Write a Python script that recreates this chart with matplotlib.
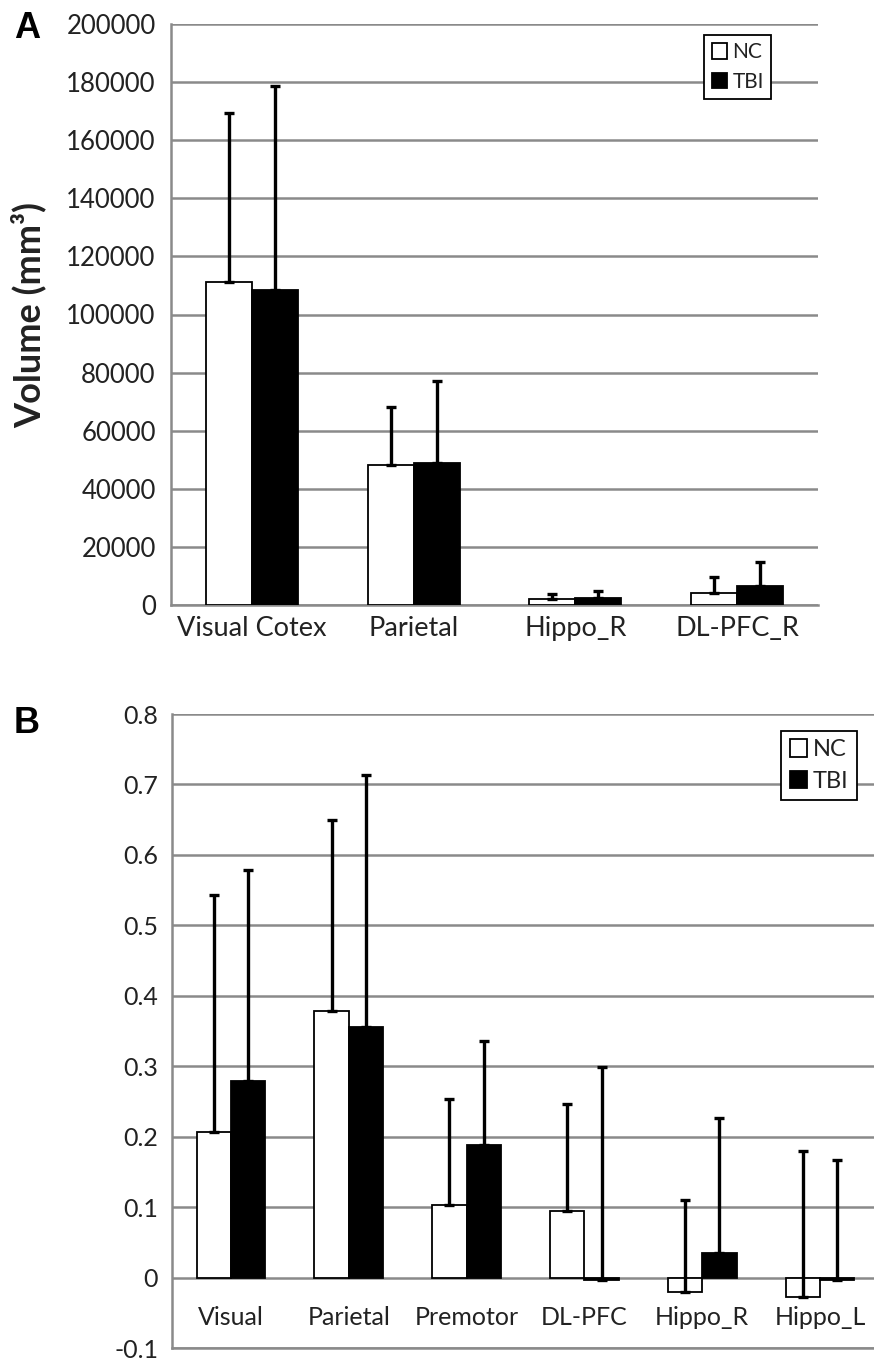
import numpy as np
import matplotlib
matplotlib.use('Agg')
import matplotlib.pyplot as plt

# panel A: volumes
regions_a = ['Visual Cotex', 'Parietal', 'Hippo_R', 'DL-PFC_R']
nc_a = [111300, 48200, 2100, 4200]
nc_a_err = [58200, 19800, 1700, 5500]
tbi_a = [108400, 48900, 2500, 6600]
tbi_a_err = [70400, 28100, 2300, 8300]

# panel B
regions_b = ['Visual', 'Parietal', 'Premotor', 'DL-PFC', 'Hippo_R', 'Hippo_L']
nc_b = [0.207, 0.378, 0.103, 0.094, -0.021, -0.027]
nc_b_err = [0.336, 0.271, 0.150, 0.152, 0.131, 0.206]
tbi_b = [0.279, 0.356, 0.188, -0.003, 0.035, -0.003]
tbi_b_err = [0.300, 0.358, 0.148, 0.302, 0.192, 0.170]

plt.rcParams['font.family'] = ['Lato', 'DejaVu Sans']
txt = '#222222'
grid = '#8a8a8a'

fig = plt.figure(figsize=(8.74, 13.59), dpi=100)


def draw(ax, nc, nc_err, tbi, tbi_err, w, capsize):
    x = np.arange(len(nc))
    ax.bar(x - w / 2, nc, w, color='white', edgecolor='black', linewidth=1.3, zorder=3, label='NC')
    ax.bar(x + w / 2, tbi, w, color='black', edgecolor='black', linewidth=1.3, zorder=3, label='TBI')
    ax.errorbar(x - w / 2, nc, yerr=[np.zeros(len(nc)), nc_err], fmt='none', ecolor='black',
                elinewidth=2.4, capsize=capsize, capthick=2.4, zorder=4)
    ax.errorbar(x + w / 2, tbi, yerr=[np.zeros(len(tbi)), tbi_err], fmt='none', ecolor='black',
                elinewidth=2.4, capsize=capsize, capthick=2.4, zorder=4)
    ax.set_xlim(-0.5, len(nc) - 0.5)
    ax.yaxis.grid(True, color=grid, linewidth=1.8, zorder=0)
    ax.set_axisbelow(True)
    for s in ['top', 'right']:
        ax.spines[s].set_visible(False)
    ax.spines['left'].set_color(grid)
    ax.spines['left'].set_linewidth(1.8)
    ax.spines['bottom'].set_color(grid)
    ax.spines['bottom'].set_linewidth(1.8)
    ax.tick_params(length=0, colors=txt)
    return x


def legend(ax, anchor, size):
    leg = ax.legend(loc='upper right', bbox_to_anchor=anchor, fontsize=size,
                    frameon=True, fancybox=False, edgecolor='black', framealpha=1,
                    handlelength=0.75, handleheight=0.75, handletextpad=0.25, borderpad=0.35,
                    labelspacing=0.45, borderaxespad=0)
    leg.get_frame().set_linewidth(1.3)
    for t in leg.get_texts():
        t.set_color(txt)


# ---- A ----
axA = fig.add_axes([171 / 874, 1 - 605 / 1359, 647 / 874, 581 / 1359])
xa = draw(axA, nc_a, nc_a_err, tbi_a, tbi_a_err, 0.285, 3.6)
axA.set_ylim(0, 200000)
axA.set_yticks(np.arange(0, 200001, 20000))
axA.tick_params(axis='y', labelsize=18.5, pad=11)
axA.set_xticks(xa)
axA.set_xticklabels(regions_a, fontsize=19.5)
axA.tick_params(axis='x', pad=8)
axA.set_ylabel('Volume (mm³)', fontsize=26, fontweight='bold', color=txt)
axA.yaxis.set_label_coords(-0.193, 0.5)
legend(axA, (600 / 647, 1 - 11 / 581), 15)
fig.text(14 / 874, 1 - 38 / 1359, 'A', fontsize=26, fontweight='bold',
         family='Liberation Sans', color='black')

# ---- B ----
axB = fig.add_axes([172 / 874, 1 - 1348 / 1359, 707 / 874, 634 / 1359])
xb = draw(axB, nc_b, nc_b_err, tbi_b, tbi_b_err, 0.292, 3.6)
axB.set_ylim(-0.1, 0.8)
axB.set_yticks(np.round(np.arange(-0.1, 0.81, 0.1), 1))
axB.set_yticklabels(['-0.1', '0', '0.1', '0.2', '0.3', '0.4', '0.5', '0.6', '0.7', '0.8'])
axB.tick_params(axis='y', labelsize=18, pad=10)
axB.set_xticks([])
for xi, name in zip(xb, regions_b):
    axB.text(xi, -0.057, name, ha='center', va='center', fontsize=18, color=txt)
legend(axB, (685 / 707, 1 - 17 / 634), 17)
fig.text(14 / 874, 1 - 733 / 1359, 'B', fontsize=26, fontweight='bold',
         family='Liberation Sans', color='black')

fig.savefig('out.png', dpi=100)
